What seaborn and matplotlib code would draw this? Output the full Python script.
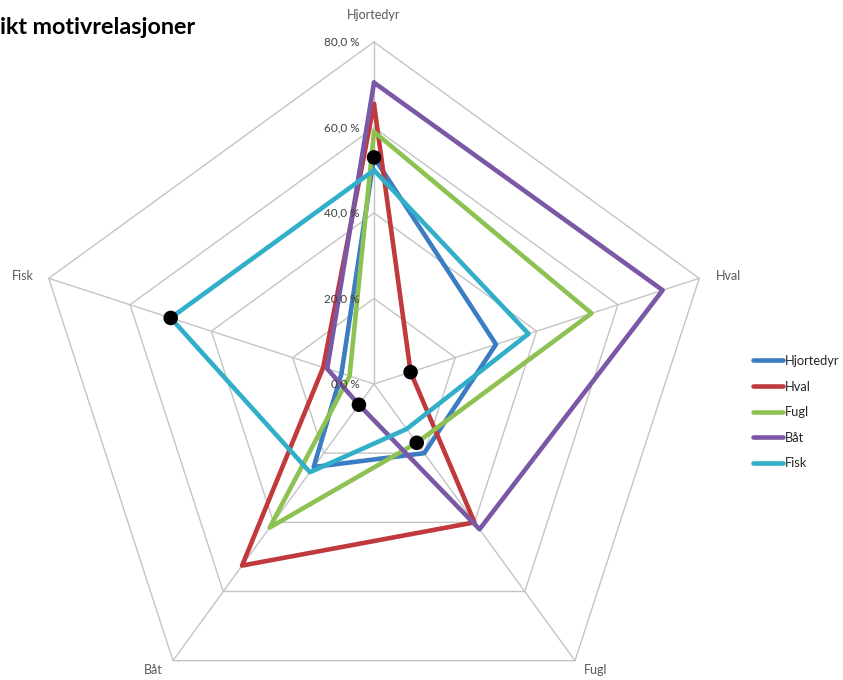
import numpy as np
import pandas as pd
import matplotlib
matplotlib.use("Agg")
import matplotlib.pyplot as plt
import seaborn as sns

sns.set_theme(style="white")
plt.rcParams["font.family"] = ["Lato", "DejaVu Sans"]

# data (percent), axis order clockwise from top
axes_labels = ["Hjortedyr", "Hval", "Fugl", "Båt", "Fisk"]
series_names = ["Hjortedyr", "Hval", "Fugl", "Båt", "Fisk"]
hjortedyr = [53.0, 30.0, 20.0, 24.0, 8.0]
hval = [65.5, 9.0, 40.0, 52.5, 12.5]
fugl = [59.0, 53.5, 17.0, 41.5, 6.0]
baat = [70.5, 71.0, 42.0, 6.0, 11.5]
fisk = [50.0, 38.0, 13.0, 25.5, 50.0]
series_values = [hjortedyr, hval, fugl, baat, fisk]
colors = ["#3b7cc2", "#c0393d", "#8dc253", "#7b58a6", "#31afc9"]
grid_levels = [0, 20, 40, 60, 80]
tick_labels = ["0,0 %", "20,0 %", "40,0 %", "60,0 %", "80,0 %"]

n = len(axes_labels)
angles = np.deg2rad(90 - 360 / n * np.arange(n))


def to_xy(r, a):
    return np.asarray(r) * np.cos(a), np.asarray(r) * np.sin(a)


rows = []
for name, vals in zip(series_names, series_values):
    for i in list(range(n)) + [0]:
        x, y = to_xy(vals[i], angles[i])
        rows.append({"serie": name, "x": x, "y": y})
df = pd.DataFrame(rows)

fig = plt.figure(figsize=(8.43, 6.80), dpi=100)
ax = fig.add_axes([0, 0, 1, 1])
px = 80 / 342  # data units per pixel
cx, cy = 374, 384
ax.set_xlim(-cx * px, (843 - cx) * px)
ax.set_ylim(-(680 - cy) * px, cy * px)
ax.axis("off")

# pentagon grid + spokes
for lev in grid_levels[1:]:
    gx, gy = to_xy([lev] * (n + 1), np.append(angles, angles[0]))
    ax.plot(gx, gy, color="#c4c4c4", lw=1.0, zorder=1)
for a in angles:
    sx, sy = to_xy([0, 80], [a, a])
    ax.plot(sx, sy, color="#c4c4c4", lw=1.0, zorder=1)

# series
for name, col in zip(series_names, colors):
    sns.lineplot(data=df[df["serie"] == name], x="x", y="y", sort=False,
                 estimator=None, color=col, lw=3.3, label=name, ax=ax,
                 zorder=3)

# black markers: each series on its own axis
mx, my = to_xy([series_values[i][i] for i in range(n)], angles)
sns.scatterplot(x=mx, y=my, color="black", s=110, edgecolor="none",
                zorder=5, ax=ax, legend=False)

# tick labels along top axis
for lev, lab in zip(grid_levels, tick_labels):
    ax.text(-3.3, lev, lab, ha="right", va="center", fontsize=8.5,
            color="#404040", zorder=6)

# category labels (pixel nudges to sit like the original)
nudges = [(0, 1), (5, -6), (6, 11), (-5, 11), (-2, -6)]
for lab, a, (dx, dy) in zip(axes_labels, angles, nudges):
    lx, ly = to_xy(86, a)
    ax.text(lx + dx * px, ly + dy * px, lab, ha="center", va="center",
            fontsize=9, color="#595959")

fig.text(0.0, 1 - 28 / 680, "ikt motivrelasjoner", ha="left", va="center",
         fontsize=16.8, fontweight="bold", color="black")

ax.legend(loc="upper left", bbox_to_anchor=(753 / 843, 1 - 355 / 680),
          frameon=False, fontsize=9.3, handlelength=2.3, handletextpad=0.2,
          labelspacing=1.05, borderpad=0, borderaxespad=0)

fig.savefig("out.png", dpi=100)
